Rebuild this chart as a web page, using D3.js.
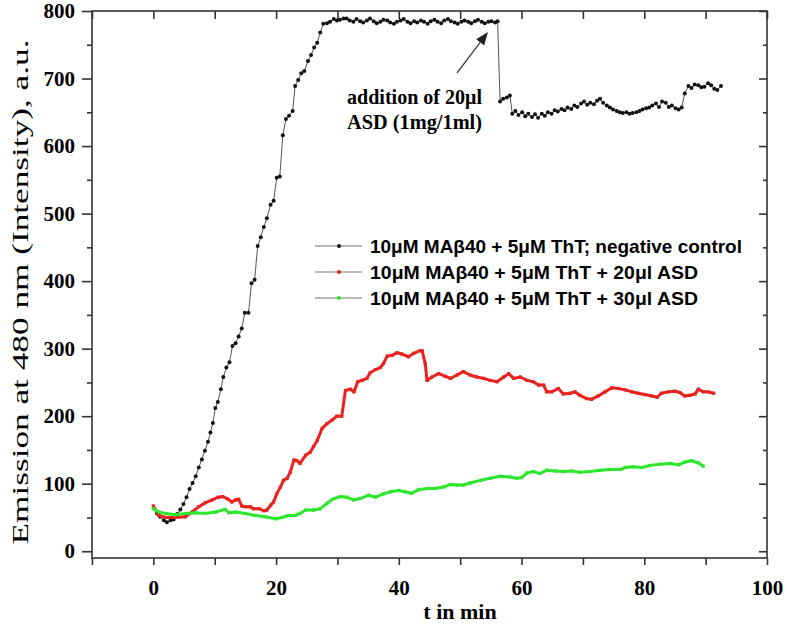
<!DOCTYPE html>
<html>
<head>
<meta charset="utf-8">
<script src="https://cdn.jsdelivr.net/npm/d3@7"></script>
<style>
  html, body { margin: 0; padding: 0; background: #fff; }
  svg { display: block; }
</style>
</head>
<body>
<svg id="chart" width="787" height="624"></svg>
<script>
// ---------------- DATA ----------------
const seriesNames = [
  "10\u03bcM MA\u03b240 + 5\u03bcM ThT; negative control",
  "10\u03bcM MA\u03b240 + 5\u03bcM ThT + 20\u03bcl ASD",
  "10\u03bcM MA\u03b240 + 5\u03bcM ThT + 30\u03bcl ASD"
];
const xTickValues = [-10, 0, 10, 20, 30, 40, 50, 60, 70, 80, 90, 100];
const xTickLabels = ["", "0", "", "20", "", "40", "", "60", "", "80", "", "100"];
const yTickValues = [0, 100, 200, 300, 400, 500, 600, 700, 800];
const yMinorValues = [50, 150, 250, 350, 450, 550, 650, 750];
const xTitle = "t in min";
const yTitle = "Emission at 480 nm (Intensity), a.u.";
const annotationLines = ["addition of 20\u03bcl", "ASD (1mg/1ml)"];

// negative control: [t (min), intensity]
const controlSeries = [
  [0.6,56],[1.1,51],[1.7,46],[2.2,43],[2.8,46],[3.3,47],[3.9,55],[4.4,62],[4.9,70],[5.4,80],
  [5.9,92],[6.4,101],[6.9,111],[7.4,124],[7.9,136],[8.4,149],[8.9,162],[9.3,176],[9.7,190],[10.1,212],
  [10.5,221],[11.0,240],[11.4,258],[11.9,272],[12.4,280],[12.9,304],[13.4,308],[13.9,318],[14.4,330],[14.9,353],
  [15.5,353],[16.0,397],[16.5,402],[17.0,452],[17.5,465],[18.0,480],[18.5,493],[19.1,513],[19.6,519],[20.1,553],
  [20.6,555],[21.1,616],[21.6,640],[22.1,645],[22.7,652],[23.1,689],[23.6,698],[24.1,708],[24.6,711],[25.2,726],
  [25.7,735],[26.2,746],[26.7,753],[27.2,768],[27.7,781],[28.3,782],[28.8,784],[29.4,788],[29.9,786],[30.4,787],
  [31.0,789],[31.5,789],[32.0,786],[32.6,784],[33.1,788],[33.7,785],[34.2,783],[34.8,786],[35.3,789],[35.9,785],
  [36.4,782],[37.0,784],[37.5,787],[38.1,786],[38.6,783],[39.2,781],[39.7,784],[40.3,786],[40.8,788],[41.4,784],
  [41.9,782],[42.5,785],[43.0,783],[43.6,786],[44.1,784],[44.7,781],[45.2,785],[45.8,787],[46.3,784],[46.9,782],
  [47.4,786],[48.0,788],[48.5,785],[49.1,783],[49.6,781],[50.2,784],[50.7,786],[51.3,784],[51.8,782],[52.4,785],
  [52.9,787],[53.5,784],[54.0,782],[54.6,784],[55.1,785],[55.7,783],[56.1,785],
  [56.5,666],[57.0,670],[57.6,672],[58.1,675],[58.5,648],[59.0,652],[59.5,646],[60.1,650],[60.6,644],[61.1,648],
  [61.7,643],[62.2,647],[62.7,642],[63.3,648],[63.8,645],[64.3,650],[64.9,648],[65.4,653],[65.9,651],[66.5,655],
  [67.0,653],[67.5,657],[68.1,655],[68.6,660],[69.1,658],[69.7,663],[70.2,666],[70.7,661],[71.2,664],[71.8,662],
  [72.3,667],[72.8,670],[73.3,664],[73.9,660],[74.4,657],[74.9,654],[75.5,652],[76.0,650],[76.5,649],[77.1,650],
  [77.6,648],[78.1,649],[78.7,650],[79.2,652],[79.7,654],[80.3,656],[80.8,657],[81.3,660],[81.9,663],[82.4,658],
  [82.9,666],[83.5,664],[84.0,658],[84.5,660],[85.1,656],[85.6,654],[86.1,657],[86.6,678],[87.2,689],[87.7,686],
  [88.2,691],[88.8,690],[89.3,687],[89.8,688],[90.4,693],[90.9,690],[91.4,685],[91.9,683],[92.5,689]
];

// + 20 µl ASD
const asd20Series = [
  [0,67],[0.9,53],[2,50],[3.6,50],[5.2,51],[6.3,58],[7.4,66],[8.5,72],[9.6,76],[10.6,80],
  [11.3,81],[12,78],[12.8,73],[13.4,76],[13.9,77],[14.4,67],[15,66],[15.8,66],[16.3,63],[17.2,63],
  [18,60],[18.5,61],[19.1,68],[19.6,73],[20.1,85],[20.7,95],[21.2,105],[21.8,108],[22.3,117],[22.9,135],
  [23.4,134],[23.9,130],[24.8,142],[25.6,147],[26.1,155],[26.7,164],[27.5,182],[28.3,189],[29.1,194],[29.9,200],
  [30.7,200],[31.3,238],[32.1,240],[32.7,236],[33.3,251],[34,253],[34.8,256],[35.3,264],[36.2,269],[37,272],
  [37.5,278],[38.1,289],[38.9,290],[39.7,294],[40.5,292],[41.6,288],[42.4,293],[43.5,297],[43.8,297],[44.3,278],
  [44.6,253],[45.4,258],[46.5,263],[47.6,259],[48.4,256],[49.5,261],[50.5,266],[51.6,261],[52.7,258],[53.8,256],
  [54.9,253],[56,251],[57.1,258],[57.9,263],[58.7,256],[59.8,258],[60.9,253],[61.9,251],[62.8,246],[63.6,246],
  [64.1,236],[64.9,236],[66,241],[66.8,233],[67.9,234],[68.7,236],[69.5,231],[70.6,226],[71.4,225],[72.5,230],
  [73.6,236],[74.7,242],[75.8,241],[76.9,239],[78,236],[79,234],[80.1,232],[81.2,230],[82.1,228],[82.8,234],
  [83.9,236],[85,237],[85.8,235],[86.6,230],[87.5,231],[88.3,233],[88.8,240],[89.6,236],[90.4,236],[91.3,234]
];

// + 30 µl ASD
const asd30Series = [
  [0,63],[0.9,58],[2,56],[3.6,54],[5.2,56],[6.8,57],[8.5,56],[10.1,58],[11.7,62],[12.3,57],
  [13.4,58],[15,56],[16.6,53],[18.2,51],[19.9,48],[21,50],[22,53],[23.1,53],[23.9,56],[24.8,61],
  [26.1,61],[27.2,63],[28.3,71],[29.4,78],[30.5,81],[31.5,80],[32.6,76],[33.7,78],[35.1,83],[36.2,80],
  [37.5,85],[38.6,88],[40,90],[41,88],[42.1,86],[43.2,91],[44.6,93],[45.9,93],[47.3,95],[48.4,99],
  [49.5,98],[50.5,98],[51.6,101],[53.3,105],[54.9,108],[56.5,111],[58.1,110],[59.2,108],[60,109],[60.9,116],
  [61.9,118],[63,115],[64.1,120],[65.5,119],[66.8,118],[68.2,119],[69.5,117],[71.2,118],[72.8,120],[74.4,121],
  [76.1,121],[76.9,124],[78.2,125],[79.6,124],[80.9,127],[82.6,129],[84.2,130],[85.6,128],[86.6,132],[87.7,134],
  [88.8,131],[89.6,126]
];

const seriesColors = ["#111111", "#e8231f", "#2fe62f"];

// ---------------- CHART ----------------
const svg = d3.select("#chart");
const L = 92, R = 767, T = 11, B = 558;
const x = d3.scaleLinear().domain([-10, 100]).range([L, R]);
const y = d3.scaleLinear().domain([-10, 800]).range([B, T]);

const serif = "'Liberation Serif', 'Times New Roman', serif";
const sans = "'Liberation Sans', Arial, sans-serif";
const axisColor = "#333";

// frame
svg.append("rect").attr("x", L).attr("y", T).attr("width", R - L).attr("height", B - T)
  .attr("fill", "none").attr("stroke", axisColor).attr("stroke-width", 1.6);

function styleAxis(g) {
  g.select(".domain").remove();
  g.selectAll(".tick line").attr("stroke", axisColor).attr("stroke-width", 1.6);
  g.selectAll("text").attr("fill", "#000").style("font-family", serif)
    .style("font-weight", "bold").style("font-size", "21px");
}

// bottom axis
svg.append("g").attr("transform", `translate(0,${B})`)
  .call(d3.axisBottom(x).tickValues(xTickValues).tickSize(7).tickPadding(15)
    .tickFormat((d, i) => xTickLabels[i]))
  .call(styleAxis);
// top axis (inward)
svg.append("g").attr("transform", `translate(0,${T})`)
  .call(d3.axisTop(x).tickValues(xTickValues).tickSize(-8).tickFormat(""))
  .call(styleAxis);
// left axis
svg.append("g").attr("transform", `translate(${L},0)`)
  .call(d3.axisLeft(y).tickValues(yTickValues).tickSize(10).tickPadding(7))
  .call(styleAxis);
svg.append("g").attr("transform", `translate(${L},0)`)
  .call(d3.axisLeft(y).tickValues(yMinorValues).tickSize(5).tickFormat(""))
  .call(styleAxis);
// right axis (inward)
svg.append("g").attr("transform", `translate(${R},0)`)
  .call(d3.axisRight(y).tickValues(yTickValues).tickSize(-8).tickFormat(""))
  .call(styleAxis);
svg.append("g").attr("transform", `translate(${R},0)`)
  .call(d3.axisRight(y).tickValues(yMinorValues).tickSize(-4).tickFormat(""))
  .call(styleAxis);

// titles
svg.append("text").attr("x", 460).attr("y", 619).attr("text-anchor", "middle")
  .style("font-family", serif).style("font-weight", "bold").style("font-size", "22px")
  .text(xTitle);
svg.append("text").attr("transform", "translate(28,292) rotate(-90)").attr("text-anchor", "middle")
  .attr("textLength", 505).attr("lengthAdjust", "spacingAndGlyphs")
  .style("font-family", serif).style("font-size", "23px")
  .text(yTitle);

// series
const line = d3.line().x(d => x(d[0])).y(d => y(d[1]));
const plot = svg.append("g");

// control: grey connecting line with black dots
plot.append("path").datum(controlSeries).attr("d", line)
  .attr("fill", "none").attr("stroke", "#555").attr("stroke-width", 1);
plot.selectAll(".c0").data(controlSeries).join("circle")
  .attr("cx", d => x(d[0])).attr("cy", d => y(d[1])).attr("r", 2)
  .attr("fill", seriesColors[0]);

[asd20Series, asd30Series].forEach((s, k) => {
  const col = seriesColors[k + 1];
  plot.append("path").datum(s).attr("d", line)
    .attr("fill", "none").attr("stroke", col).attr("stroke-width", 3)
    .attr("stroke-linejoin", "round").attr("stroke-linecap", "round");
  plot.selectAll(".m" + k).data(s).join("rect")
    .attr("x", d => x(d[0]) - 1.6).attr("y", d => y(d[1]) - 1.6)
    .attr("width", 3.2).attr("height", 3.2).attr("fill", col);
});

// legend
const legendY = [246, 272, 298];
const legendLen = [372, 328, 328];
const lg = svg.append("g");
seriesNames.forEach((name, i) => {
  lg.append("line").attr("x1", 315).attr("x2", 362).attr("y1", legendY[i]).attr("y2", legendY[i])
    .attr("stroke", "#777").attr("stroke-width", 1.2);
  lg.append("circle").attr("cx", 339).attr("cy", legendY[i]).attr("r", 2).attr("fill", seriesColors[i]);
  lg.append("text").attr("x", 370).attr("y", legendY[i] + 6.5)
    .attr("textLength", legendLen[i]).attr("lengthAdjust", "spacingAndGlyphs")
    .style("font-family", sans).style("font-weight", "bold").style("font-size", "18.5px")
    .text(name);
});

// annotation
const ann = svg.append("g");
ann.selectAll("text").data(annotationLines).join("text")
  .attr("x", 347).attr("y", (d, i) => 104 + i * 25)
  .attr("textLength", 135).attr("lengthAdjust", "spacingAndGlyphs")
  .style("font-family", serif).style("font-weight", "bold").style("font-size", "20px")
  .text(d => d);
const ax1 = 457, ay1 = 73, ax2 = 488, ay2 = 32;
const ang = Math.atan2(ay2 - ay1, ax2 - ax1);
const hl = 13, hw = 5;
const bx = ax2 - hl * Math.cos(ang), by = ay2 - hl * Math.sin(ang);
ann.append("line").attr("x1", ax1).attr("y1", ay1).attr("x2", bx).attr("y2", by)
  .attr("stroke", "#444").attr("stroke-width", 1.3);
ann.append("path")
  .attr("d", `M${ax2},${ay2} L${bx + hw * Math.sin(ang)},${by - hw * Math.cos(ang)} L${bx - hw * Math.sin(ang)},${by + hw * Math.cos(ang)} Z`)
  .attr("fill", "#222");
</script>
</body>
</html>
